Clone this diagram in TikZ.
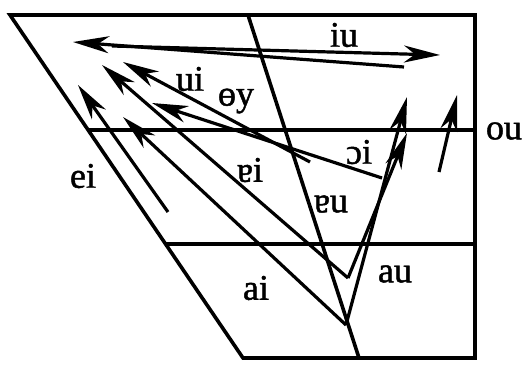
\documentclass[tikz,border=0pt]{standalone}
\usepackage{fontspec}
\setmainfont{Liberation Serif}[FakeBold=1.3]
\usetikzlibrary{arrows.meta}
\tikzset{
  frame/.style={line width=3.6pt,line join=miter},
  dip/.style={line width=3.2pt,-{Stealth[length=36pt,width=17pt,inset=11pt]}},
  lab/.style={font=\fontsize{36}{40}\selectfont,inner sep=0pt}
}

\begin{document}
\begin{tikzpicture}[x=1pt,y=-1pt]
  \useasboundingbox (0,0) rectangle (529,365);
  % chart outline and grid lines
  \coordinate (tl) at (10,15);   \coordinate (tr) at (475,15);
  \coordinate (br) at (475,358); \coordinate (bl) at (243,358);
  \coordinate (m1l) at (88,130);  \coordinate (m1r) at (475,130);
  \coordinate (m2l) at (166,244); \coordinate (m2r) at (475,244);
  \coordinate (ctop) at (248,15); \coordinate (cbot) at (359,358);
  \draw[frame] (tl) -- (tr) -- (br) -- (bl) -- cycle;
  \draw[frame] (m1l) -- (m1r);
  \draw[frame] (m2l) -- (m2r);
  \draw[frame] (ctop) -- (cbot);
  % start and end points of the glides
  \coordinate (iu0) at (112,46);  \coordinate (iu1) at (440,55);
  \coordinate (ui0) at (404,67);  \coordinate (ui1) at (73,42);
  \coordinate (ei0) at (168,212); \coordinate (ei1) at (78,85);
  \coordinate (a0) at (346,325);  \coordinate (ai1) at (123,117); \coordinate (au1) at (407,97);
  \coordinate (v0) at (348,278);  \coordinate (vi1) at (102,65);  \coordinate (vu1) at (407,133);
  \coordinate (oy0) at (310,162); \coordinate (oy1) at (123,62);
  \coordinate (ci0) at (382,178); \coordinate (ci1) at (152,103);
  \coordinate (ou0) at (439,172); \coordinate (ou1) at (457,95);
  \foreach \s/\e in {iu0/iu1, ui0/ui1, ei0/ei1, a0/ai1, a0/au1, v0/vi1, v0/vu1, oy0/oy1, ci0/ci1, ou0/ou1}
    \draw[dip] (\s) -- (\e);
  % labels
  \node[lab] (liu) at (344,35) {iu};
  \node[lab] (lui) at (190,79) {ui};
  \node[lab] (loy) at (236,101) {ɵy};
  \node[lab] (lei) at (83,176) {ei};
  \node[lab] (lvi) at (250,170) {ɐi};
  \node[lab] (lci) at (359,152) {ɔi};
  \node[lab] (lvu) at (331,204) {ɐu};
  \node[lab] (lai) at (256,288) {ai};
  \node[lab] (lau) at (395,274) {au};
  \node[lab] (lou) at (504,131) {ou};
\end{tikzpicture}
\end{document}
